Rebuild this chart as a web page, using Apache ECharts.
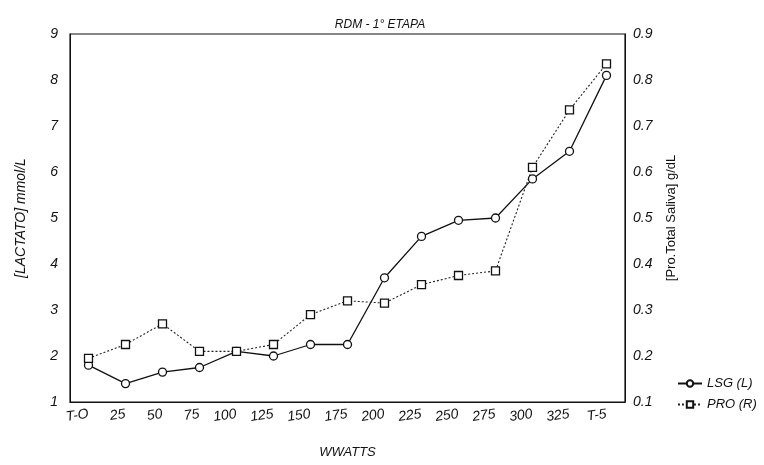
<!DOCTYPE html>
<html><head><meta charset="utf-8">
<script src="https://cdn.jsdelivr.net/npm/echarts@6/dist/echarts.min.js"></script>
<style>html,body{margin:0;padding:0;background:#fff}#c{width:764px;height:465px}</style>
</head><body><div id="c"></div>
<script>
const categories = ['T-O','25','50','75','100','125','150','175','200','225','250','275','300','325','T-5'];
const lsg = [1.8, 1.4, 1.65, 1.75, 2.1, 2.0, 2.25, 2.25, 3.7, 4.6, 4.95, 5.0, 5.85, 6.45, 8.1];
const pro = [0.195, 0.225, 0.27, 0.21, 0.21, 0.225, 0.29, 0.32, 0.315, 0.355, 0.375, 0.385, 0.61, 0.735, 0.835];
const font = 'Liberation Sans';
const chart = echarts.init(document.getElementById('c'));
chart.setOption({
  backgroundColor: '#fff',
  animation: false,
  title: { text: 'RDM - 1° ETAPA', left: 375, top: 14, textAlign: 'center',
    textStyle: { fontFamily: font, fontStyle: 'italic', fontWeight: 'normal', fontSize: 12, color: '#111' } },
  grid: { left: 70, right: 139, top: 34, bottom: 63, show: true, borderColor: '#111', borderWidth: 1.2 },
  legend: {
    orient: 'vertical', left: 672, top: 372, itemWidth: 24, itemHeight: 8, itemGap: 8,
    textStyle: { fontFamily: font, fontStyle: 'italic', fontSize: 13, color: '#111' },
    data: ['LSG (L)', 'PRO (R)']
  },
  xAxis: {
    type: 'category', data: categories, boundaryGap: true,
    name: 'WWATTS', nameLocation: 'middle', nameGap: 44,
    nameTextStyle: { fontFamily: font, fontStyle: 'italic', fontSize: 13, color: '#111' },
    axisLine: { show: true, lineStyle: { color: '#111' } }, axisTick: { show: false },
    axisLabel: { fontFamily: font, fontStyle: 'italic', fontSize: 14, color: '#111', rotate: 8, margin: 12, interval: 0 }
  },
  yAxis: [
    { type: 'value', min: 1, max: 9, interval: 1, position: 'left',
      name: '[LACTATO] mmol/L', nameLocation: 'middle', nameGap: 42, nameRotate: 90,
      nameTextStyle: { fontFamily: font, fontStyle: 'italic', fontSize: 14, color: '#111' },
      axisLine: { show: true, lineStyle: { color: '#111' } }, axisTick: { show: false }, splitLine: { show: false },
      axisLabel: { fontFamily: font, fontStyle: 'italic', fontSize: 14, color: '#111', margin: 12 } },
    { type: 'value', min: 0.1, max: 0.9, interval: 0.1, position: 'right',
      name: '[Pro.Total Saliva] g/dL', nameLocation: 'middle', nameGap: 40, nameRotate: 90,
      nameTextStyle: { fontFamily: font, fontSize: 13, color: '#111' },
      axisLine: { show: true, lineStyle: { color: '#111' } }, axisTick: { show: false }, splitLine: { show: false },
      axisLabel: { fontFamily: font, fontStyle: 'italic', fontSize: 14, color: '#111', margin: 8,
        formatter: v => v.toFixed(1) } }
  ],
  series: [
    { name: 'LSG (L)', type: 'line', yAxisIndex: 0, data: lsg,
      symbol: 'circle', symbolSize: 8, showAllSymbol: true,
      lineStyle: { color: '#111', width: 1.3, type: 'solid' },
      itemStyle: { color: '#fff', borderColor: '#111', borderWidth: 1.3 } },
    { name: 'PRO (R)', type: 'line', yAxisIndex: 1, data: pro,
      symbol: 'rect', symbolSize: 8, showAllSymbol: true,
      lineStyle: { color: '#222', width: 1.1, type: [2, 2] },
      itemStyle: { color: '#fff', borderColor: '#111', borderWidth: 1.3 } }
  ]
});
</script></body></html>
